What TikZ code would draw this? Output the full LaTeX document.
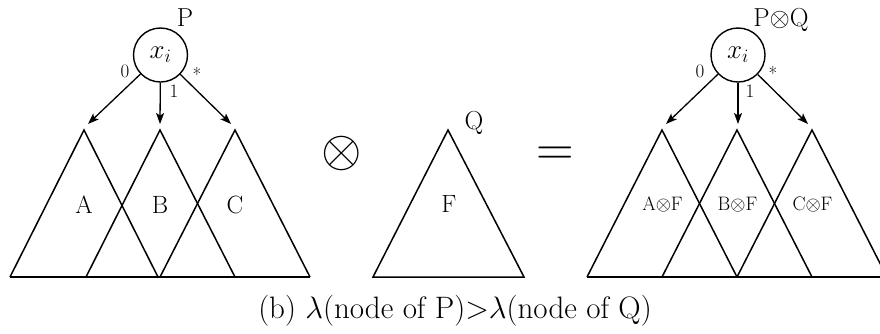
\RequirePackage{fix-cm}
\documentclass[tikz,border=0pt]{standalone}
\usetikzlibrary{arrows.meta}
\begin{document}
\begin{tikzpicture}[x=1pt,y=-1pt,
  edge/.style={line width=1.3pt,-{Stealth[length=11pt,width=8pt,inset=2.5pt]}},
  tri/.style={line width=1.5pt, line join=miter},
  var/.style={circle,draw,line width=1.4pt,minimum size=54pt,inner sep=0pt,font=\fontsize{27}{27}\selectfont},
  big/.style={font=\fontsize{26}{26}\selectfont, inner sep=0pt, anchor=base},
  sub/.style={font=\fontsize{25}{25}\selectfont, inner sep=0pt, anchor=base},
  small/.style={font=\fontsize{19.5}{19.5}\selectfont, inner sep=0pt, anchor=base},
  elab/.style={font=\fontsize{19}{19}\selectfont, inner sep=0pt, anchor=base},
  op/.style={font=\fontsize{52}{52}\selectfont, inner sep=0pt, anchor=base},
  captext/.style={font=\fontsize{31}{31}\selectfont, inner sep=0pt, anchor=base}]
\clip (0,0) rectangle (880,333);

% ---------- left tree P ----------
\node[var] (xl) at (160.5,55) {$x_i$};
\node[big] (lP) at (185,26) {P};
\coordinate (lA) at (84,130);
\coordinate (lB) at (160,130);
\coordinate (lC) at (235,130);
\coordinate (leA) at (88,124);
\coordinate (leB) at (160,124);
\coordinate (leC) at (231,124);
\draw[edge] (xl) -- (leA);
\draw[edge] (xl) -- (leB);
\draw[edge] (xl) -- (leC);
\node[elab] (l0) at (125,77) {0};
\node[elab] (l1) at (174,97) {1};
\node[elab, anchor=center] (ls) at (197,74) {*};
\draw[tri] (10,277) -- (lA) -- (158,277);
\draw[tri] (86,277) -- (lB) -- (235,277);
\draw[tri] (160,277) -- (lC) -- (310,277);
\draw[tri] (10,277) -- (310,277);
\node[sub] (la) at (84,213) {A};
\node[sub] (lb) at (160,213) {B};
\node[sub] (lc) at (235,213) {C};

% ---------- operator ----------
\node[op] (ot) at (342,166) {$\otimes$};

% ---------- tree Q ----------
\coordinate (qA) at (448,130);
\draw[tri] (373,277) -- (qA) -- (524,277) -- cycle;
\node[sub] (qF) at (449,212) {F};
\node[big] (qQ) at (474,129) {Q};

% ---------- equals ----------
\node[op] (eq) at (555,165.5) {$=$};

% ---------- right tree P (x) Q ----------
\node[var] (xr) at (738,55) {$x_i$};
\node[big] (rPQ) at (781,26) {P$\otimes$Q};
\coordinate (rA) at (662,130);
\coordinate (rB) at (737,130);
\coordinate (rC) at (812,130);
\coordinate (reA) at (666,124);
\coordinate (reB) at (738,124);
\coordinate (reC) at (808,124);
\draw[edge] (xr) -- (reA);
\draw[edge] (xr) -- (reB);
\draw[edge] (xr) -- (reC);
\node[elab] (r0) at (700,77) {0};
\node[elab] (r1) at (750,97) {1};
\node[elab, anchor=center] (rs) at (773,73) {*};
\draw[tri] (587,277) -- (rA) -- (737,277);
\draw[tri] (662,277) -- (rB) -- (812,277);
\draw[tri] (737,277) -- (rC) -- (887,277);
\draw[tri] (587,277) -- (887,277);
\node[small] (ra) at (662.5,210) {A$\otimes$F};
\node[small] (rb) at (737.5,210) {B$\otimes$F};
\node[small] (rc) at (812.5,210) {C$\otimes$F};

% ---------- caption ----------
\node[captext] (caption) at (455,318) {(b) $\lambda$(node of P)$>$$\lambda$(node of Q)};
\end{tikzpicture}
\end{document}
